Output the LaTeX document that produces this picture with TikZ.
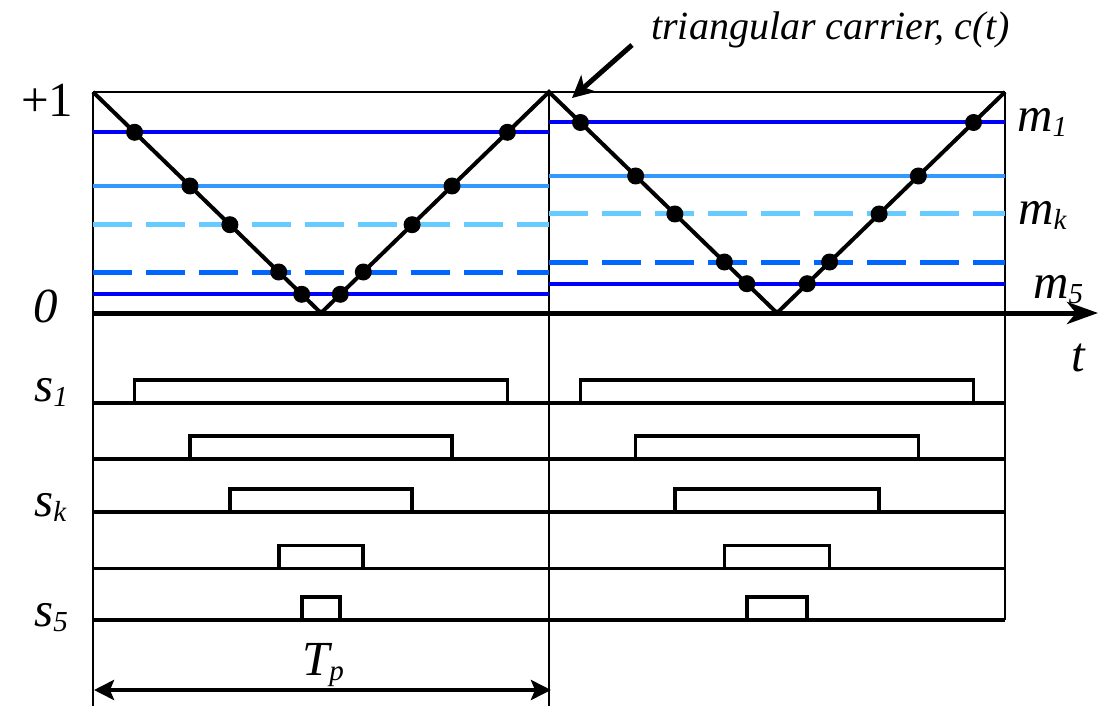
\documentclass[tikz,border=0pt]{standalone}
\usepackage{fontspec}
\setmainfont{Liberation Serif}
\usetikzlibrary{arrows.meta}
\definecolor{mblue}{RGB}{0,0,255}
\definecolor{mlight}{RGB}{51,153,255}
\definecolor{mcyan}{RGB}{102,204,255}
\definecolor{mmid}{RGB}{0,102,255}
\newcommand\sbx[1]{\raisebox{-5pt}{\fontsize{29}{29}\selectfont #1}}
\begin{document}
\begin{tikzpicture}[x=1pt,y=-1pt,
  frame/.style={line width=2pt,black},
  carrier/.style={line width=4pt,black,line join=miter},
  dsh/.style={line width=5pt,dash pattern=on 39pt off 14pt},
  plain/.style={line width=4pt},
  dot/.style={circle,fill=black,inner sep=0pt,minimum size=17pt},
  pulse/.style={line width=3.6pt,black},
  lab/.style={inner sep=0pt,anchor=base west,font=\fontsize{49}{51}\selectfont}]
\useasboundingbox (0,0) rectangle (1104,706);
% frame
\draw[frame] (93,92) -- (1005,92);
\draw[frame] (93,92) -- (93,706);
\draw[frame] (549,92) -- (549,706);
\draw[frame] (1005,92) -- (1005,620);
% modulation levels
\foreach \yl/\yr/\c/\s in {132.3/122.5/mblue/plain, 186/176/mlight/plain, 224.7/214/mcyan/dsh, 272/262/mmid/dsh, 294.3/283.7/mblue/plain} {
  \draw[\s,\c] (93,\yl) -- (549,\yl);
  \draw[\s,\c] (549,\yr) -- (1005,\yr);
}
% axis
\draw[line width=5pt,-{Stealth[length=31pt,width=22pt,inset=9pt]}] (93,313) coordinate (o) -- (1098,313) coordinate (tend);
% carrier
\draw[carrier] (93,92) -- (321,313) -- (549,92) -- (777,313) -- (1005,92);
% dots and pulses
\foreach \b/\yl/\yr in {402.7/132.3/122.5, 459/186/176, 511.7/224.7/214, 568.3/272/262, 620/294.3/283.7} {
  \pgfmathsetmacro\dl{1.0317*(\yl-92)}
  \pgfmathsetmacro\dr{1.0317*(\yr-92)}
  \node[dot] at ({93+\dl},\yl) {};
  \node[dot] at ({549-\dl},\yl) {};
  \node[dot] at ({549+\dr},\yr) {};
  \node[dot] at ({1005-\dr},\yr) {};
  \draw[pulse] (93,\b) -- (1005,\b);
  \draw[pulse] ({93+\dl},\b) rectangle ({549-\dl},{\b-23});
  \draw[pulse] ({549+\dr},\b) rectangle ({1005-\dr},{\b-23});
}
% period arrow
\coordinate (pa) at (94,690);
\coordinate (pb) at (551,690);
\draw[line width=4pt,{Stealth[length=20pt,width=20pt,inset=4pt]}-{Stealth[length=20pt,width=20pt,inset=4pt]}] (pa) -- (pb);
% carrier label arrow
\coordinate (ca) at (632,45);
\coordinate (cb) at (572,98);
\draw[line width=5pt,-{Stealth[length=22pt,width=22pt,inset=6pt]}] (ca) -- (cb);
% labels
\node[lab] (p1) at (21,116.7) {+1};
\node[lab] (z) at (33,322) {\itshape 0};
\node[lab] (m1) at (1017,131.7) {\itshape m\sbx{1}};
\node[lab] (mk) at (1018,225) {\itshape m\sbx{k}};
\node[lab] (m5) at (1033,298.3) {\itshape m\sbx{5}};
\node[lab] (t) at (1071,371.7) {\itshape t};
\node[lab] (s1) at (34,401) {\itshape s\sbx{1}};
\node[lab] (sk) at (34,516) {\itshape s\sbx{k}};
\node[lab] (s5) at (34,626) {\itshape s\sbx{5}};
\node[lab] (tp) at (302,675) {\itshape T\sbx{p}};
\node[inner sep=0pt,anchor=base west,font=\fontsize{40}{44}\selectfont\itshape] (tc) at (651,39.3) {triangular carrier, c(t)};
\end{tikzpicture}
\end{document}
